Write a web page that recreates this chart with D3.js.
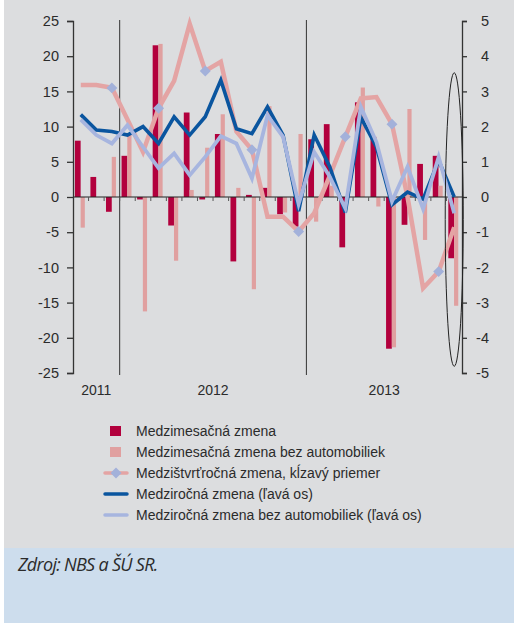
<!DOCTYPE html>
<html>
<head>
<meta charset="utf-8">
<script src="https://cdn.jsdelivr.net/npm/d3@7"></script>
<style>
  body { margin: 0; background: #fff; }
  svg text { font-family: "Liberation Sans", Arial, sans-serif; fill: #2b2b2b; }
</style>
</head>
<body>
<div id="chart"></div>
<script>
// months Oct 2011 - Oct 2013
var months = ["2011-10","2011-11","2011-12",
  "2012-01","2012-02","2012-03","2012-04","2012-05","2012-06","2012-07","2012-08","2012-09","2012-10","2012-11","2012-12",
  "2013-01","2013-02","2013-03","2013-04","2013-05","2013-06","2013-07","2013-08","2013-09","2013-10"];

// right axis (%)
var momTotal  = [1.6, 0.57, -0.42, 1.17, -0.07, 4.31, -0.81, 2.4, -0.07, 1.79, -1.83, 0.06, 0.26, -0.49, -0.84, 1.64, 2.07, -1.43, 2.69, 1.71, -4.31, -0.79, 0.94, 1.17, -1.74];
var momExCars = [-0.87, 0, 1.14, 1.8, -3.25, 4.35, -1.81, 0.2, 1.4, 2.35, 0.26, -2.62, 2.58, -0.44, 1.79, -0.7, 0.32, 0, 3.11, -0.27, -4.27, 2.5, -1.22, 0.32, -3.09];
var qoqAvg    = [3.18, 3.18, 3.1, 2.2, 1.28, 2.52, 3.3, 4.92, 3.58, 3.84, 1.86, 1.34, -0.56, -0.56, -0.98, -0.46, 0.6, 1.71, 2.8, 2.84, 2.07, 0.0, -2.59, -2.12, -0.86];
var qoqMarkers = ["2011-12","2012-03","2012-06","2012-09","2012-12","2013-03","2013-06","2013-09"];

// left axis (%)
var yoyTotal  = [11.7, 9.5, 9.3, 8.8, 10.0, 7.6, 11.4, 8.8, 11.4, 16.6, 9.7, 9.0, 12.8, 8.8, -2.0, 8.8, 4.3, -2.2, 11.3, 7.1, -1.1, 0.7, -0.3, 5.2, 0.0];
var yoyExCars = [11.0, 8.8, 7.6, 10.2, 7.1, 4.1, 6.2, 3.1, 5.7, 8.65, 7.6, 2.65, 11.6, 8.55, -1.0, 6.4, 2.9, -1.6, 12.8, 7.8, -0.6, 4.3, -1.7, 5.7, -2.3];

var leftTicks = [25, 20, 15, 10, 5, 0, -5, -10, -15, -20, -25];
var rightTicks = [5, 4, 3, 2, 1, 0, -1, -2, -3, -4, -5];

var legendLabels = ["Medzimesačná zmena", "Medzimesačná zmena bez automobiliek",
  "Medzištvrťročná zmena, kĺzavý priemer", "Medziročná zmena (ľavá os)",
  "Medziročná zmena bez automobiliek (ľavá os)"];
var sourceText = "Zdroj: NBS a ŠÚ SR.";

var colors = {
  mom: "#b2003d",
  momEx: "#e0a0a0",
  qoq: "#e4a4a4",
  marker: "#a3b1da",
  yoy: "#0a559f",
  yoyEx: "#a7b5df"
};

var W = 514, H = 623;

var svg = d3.select("#chart").append("svg")
  .attr("width", W)
  .attr("height", H);

// panels
svg.append("rect").attr("x", 4).attr("y", 0).attr("width", W - 4).attr("height", 548).attr("fill", "#dcdddf");
svg.append("rect").attr("x", 4).attr("y", 548).attr("width", W - 4).attr("height", 75).attr("fill", "#cddded");

var x = d3.scaleBand().domain(months).range([73, 462]).padding(0),
    yL = d3.scaleLinear().domain([-25, 25]).range([373, 21]),
    yR = d3.scaleLinear().domain([-5, 5]).range([373, 21]);
var bw = x.bandwidth();
function cx(m) { return x(m) + bw / 2; }

var chart = svg.append("g");

// year dividers
var yearStarts = months.filter(function(m, i) { return i > 0 && m.slice(5) === "01"; });
chart.selectAll(".year-line")
  .data(yearStarts)
  .enter().append("line")
  .attr("x1", function(d) { return x(d); })
  .attr("x2", function(d) { return x(d); })
  .attr("y1", yL(25) - 1)
  .attr("y2", yL(-25) + 2)
  .attr("stroke", "#333")
  .attr("stroke-width", 1);

// bars
chart.selectAll(".bar-mom")
  .data(momTotal)
  .enter().append("rect")
  .attr("x", function(d, i) { return x(months[i]) + bw * 0.12; })
  .attr("width", bw * 0.37)
  .attr("y", function(d) { return yR(Math.max(0, d)); })
  .attr("height", function(d) { return Math.abs(yR(d) - yR(0)); })
  .attr("fill", colors.mom);

chart.selectAll(".bar-momex")
  .data(momExCars)
  .enter().append("rect")
  .attr("x", function(d, i) { return x(months[i]) + bw * 0.49; })
  .attr("width", bw * 0.27)
  .attr("y", function(d) { return yR(Math.max(0, d)); })
  .attr("height", function(d) { return Math.abs(yR(d) - yR(0)); })
  .attr("fill", colors.momEx);

// zero line and month ticks
chart.append("line")
  .attr("x1", 73).attr("x2", 462)
  .attr("y1", yL(0)).attr("y2", yL(0))
  .attr("stroke", "#222").attr("stroke-width", 1.2);

chart.selectAll(".month-tick")
  .data(months.slice(1))
  .enter().append("line")
  .attr("x1", function(d) { return x(d); })
  .attr("x2", function(d) { return x(d); })
  .attr("y1", yL(0))
  .attr("y2", yL(0) + 4)
  .attr("stroke", "#555");

// lines
var lineL = d3.line()
  .x(function(d, i) { return cx(months[i]); })
  .y(function(d) { return yL(d); });
var lineR = d3.line()
  .x(function(d, i) { return cx(months[i]); })
  .y(function(d) { return yR(d); });

chart.append("path")
  .attr("d", lineR(qoqAvg))
  .attr("fill", "none")
  .attr("stroke", colors.qoq)
  .attr("stroke-width", 4.5)
  .attr("stroke-linejoin", "miter");

chart.append("path")
  .attr("d", lineL(yoyTotal))
  .attr("fill", "none")
  .attr("stroke", colors.yoy)
  .attr("stroke-width", 3.6);

chart.append("path")
  .attr("d", lineL(yoyExCars))
  .attr("fill", "none")
  .attr("stroke", colors.yoyEx)
  .attr("stroke-width", 3.8);

// diamonds on quarterly average
var diamond = d3.symbol().type(d3.symbolSquare).size(60);
chart.selectAll(".marker")
  .data(qoqMarkers)
  .enter().append("path")
  .attr("d", diamond)
  .attr("transform", function(d) {
    return "translate(" + cx(d) + "," + yR(qoqAvg[months.indexOf(d)]) + ") rotate(45)";
  })
  .attr("fill", colors.marker);

// axes (plain hyphen as minus, like the original)
var fmt = function(d) { return String(d); };
var axL = chart.append("g")
  .attr("transform", "translate(73,0)")
  .call(d3.axisLeft(yL).tickValues(leftTicks).tickSize(6).tickPadding(8).tickFormat(fmt));
var axR = chart.append("g")
  .attr("transform", "translate(462,0)")
  .call(d3.axisRight(yR).tickValues(rightTicks).tickSize(5).tickPadding(22).tickFormat(fmt));
[axL, axR].forEach(function(ax) {
  ax.select(".domain").attr("stroke", "#333").attr("stroke-width", 1.3);
  ax.selectAll(".tick line").attr("stroke", "#333").attr("stroke-width", 1.3);
  ax.selectAll(".tick text").attr("font-size", 14.5).attr("fill", "#2b2b2b")
    .style("font-family", "'Liberation Sans', Arial, sans-serif");
});
axR.selectAll(".tick text").attr("text-anchor", "end");

// year labels
var years = d3.groups(months, function(m) { return m.slice(0, 4); });
chart.selectAll(".year-label")
  .data(years)
  .enter().append("text")
  .attr("x", function(d) {
    var ms = d[1];
    return (x(ms[0]) + x(ms[ms.length - 1]) + bw) / 2;
  })
  .attr("y", 395)
  .attr("text-anchor", "middle")
  .attr("font-size", 14)
  .text(function(d) { return d[0]; });

// highlight ellipse around last month
var last = months[months.length - 1];
chart.append("ellipse")
  .attr("cx", cx(last))
  .attr("cy", (yR(3.53) + yR(-4.81)) / 2)
  .attr("rx", 9)
  .attr("ry", (yR(-4.81) - yR(3.53)) / 2)
  .attr("fill", "none")
  .attr("stroke", "#222")
  .attr("stroke-width", 1);

// legend
var legend = svg.append("g").attr("transform", "translate(105,431)");
var item = legend.selectAll(".item")
  .data(legendLabels)
  .enter().append("g")
  .attr("transform", function(d, i) { return "translate(0," + (i * 21) + ")"; });

item.append("text")
  .attr("x", 31)
  .attr("y", 5)
  .attr("font-size", 14)
  .attr("fill", "#333")
  .text(function(d) { return d; });

item.filter(function(d, i) { return i < 2; })
  .append("rect")
  .attr("x", 5).attr("y", -5).attr("width", 11).attr("height", 10)
  .attr("fill", function(d, i) { return i === 0 ? colors.mom : colors.momEx; });

item.filter(function(d, i) { return i >= 2; })
  .append("line")
  .attr("x1", 0).attr("x2", 22).attr("y1", 0).attr("y2", 0)
  .attr("stroke", function(d, i) { return [colors.qoq, colors.yoy, colors.yoyEx][i]; })
  .attr("stroke-width", 3.5)
  .attr("stroke-linecap", "round");

item.filter(function(d, i) { return i === 2; })
  .append("path")
  .attr("d", diamond)
  .attr("transform", "translate(11,0) rotate(45)")
  .attr("fill", colors.marker);

// source note
svg.append("text")
  .attr("x", 18)
  .attr("y", 571)
  .attr("font-size", 18)
  .attr("font-style", "italic")
  .style("font-family", "'Open Sans', 'Noto Sans', sans-serif")
  .attr("letter-spacing", -0.7)
  .attr("fill", "#222")
  .text(sourceText);
</script>
</body>
</html>
